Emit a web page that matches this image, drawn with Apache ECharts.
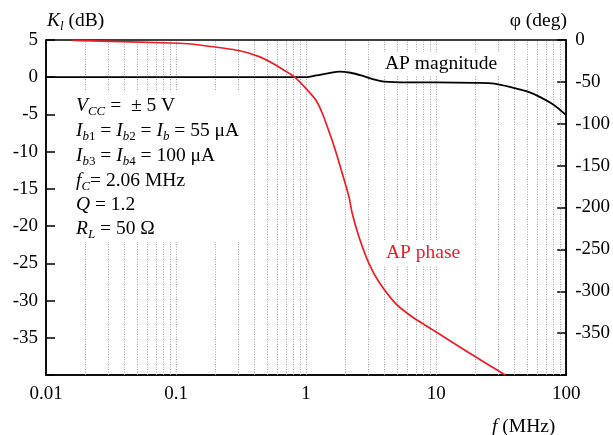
<!DOCTYPE html>
<html>
<head>
<meta charset="utf-8">
<script src="https://cdn.jsdelivr.net/npm/echarts@6/dist/echarts.min.js"></script>
<style>html,body{margin:0;padding:0;background:#fff}#c{width:613px;height:435px}</style>
</head>
<body>
<div id="c"></div>
<script>
// ---- data ----
const magFreq = [0.01, 0.97, 1.2, 1.5, 1.8, 2.2, 2.7, 3.3, 4, 6, 10, 20, 28, 40, 50, 62, 80, 100];
const magDb   = [0, 0, 0.25, 0.55, 0.75, 0.6, 0.2, -0.3, -0.6, -0.7, -0.7, -0.75, -0.85, -1.45, -1.9, -2.6, -3.7, -5.1];

const phaseFreq = [0.016, 0.106, 0.151, 0.307, 0.436, 0.552, 0.658, 0.809, 0.995, 1.187, 1.333, 1.546, 1.69, 1.79, 2.136, 2.263, 2.548, 3.04, 3.625, 4.87, 6.53, 9.29, 10.45, 13.2, 18.8, 30.1, 34];
const phaseDeg  = [-0.4, -3.9, -6.0, -12.8, -19.9, -27.8, -35, -43.8, -57.7, -71.6, -87.5, -115, -133, -146, -187, -206.9, -234.9, -266.7, -288.6, -314.4, -330.4, -345.5, -350.5, -360.5, -375.5, -395, -400];

const gridFreqs = [0.02, 0.03, 0.04, 0.05, 0.06, 0.07, 0.08, 0.09, 0.1,
                   0.2, 0.3, 0.4, 0.5, 0.6, 0.7, 0.8, 0.9, 1,
                   2, 3, 4, 5, 6, 7, 8, 9, 10,
                   20, 30, 40, 50, 60, 70, 80, 90];

const xTickLabels = ['0.01', '0.1', '1', '10', '100'];
const hiddenLeft = -40, hiddenRight = -400;

const FONT = "'Liberation Serif','Times New Roman',serif";
const RED = '#ee1c25';

const magData = magFreq.map((f, i) => [f, magDb[i]]);
const phaseData = phaseFreq.map((f, i) => [f, phaseDeg[i]]);

function richBase(color) {
  return {
    n: {fontFamily: FONT, fontSize: 19.5, lineHeight: 24, fill: color, color: color},
    i: {fontFamily: FONT, fontSize: 19.5, lineHeight: 24, fontStyle: 'italic', fill: color, color: color},
    s: {fontFamily: FONT, fontSize: 13, lineHeight: 12, fontStyle: 'italic', verticalAlign: 'bottom', fill: color, color: color},
    sn: {fontFamily: FONT, fontSize: 13, lineHeight: 12, verticalAlign: 'bottom', fill: color, color: color}
  };
}
function txt(x, y, text, opts) {
  opts = opts || {};
  const color = opts.color || '#000';
  return {
    type: 'text', x: x, y: y, z: 6,
    style: Object.assign({
      text: text,
      rich: richBase(color),
      fill: color,
      font: '19px ' + FONT,
      align: opts.align || 'left',
      verticalAlign: 'middle',
      textAlign: opts.align || 'left',
      textVerticalAlign: 'middle'
    }, opts.bg ? {backgroundColor: '#fff', padding: [0, 2]} : {})
  };
}

const chart = echarts.init(document.getElementById('c'), null, {renderer: 'canvas'});
chart.setOption({
  animation: false,
  backgroundColor: '#fff',
  grid: {left: 46, right: 45, top: 40, bottom: 60, show: true, borderColor: '#000', borderWidth: 1.5, backgroundColor: 'transparent'},
  xAxis: {
    type: 'log', logBase: 10, min: 0.01, max: 100,
    axisLine: {show: true, onZero: false, lineStyle: {color: '#000', width: 1.5}},
    axisTick: {show: false},
    splitLine: {show: false},
    minorTick: {show: false},
    axisLabel: {
      color: '#000', fontFamily: FONT, fontSize: 19, margin: 10,
      formatter: v => xTickLabels[Math.round(Math.log10(v)) + 2]
    }
  },
  yAxis: [{
    type: 'value', min: -40, max: 5, interval: 5, position: 'left',
    axisLine: {show: true, onZero: false, lineStyle: {color: '#000', width: 1.5}},
    axisTick: {show: true, inside: true, length: 9, lineStyle: {color: '#000', width: 1.5}},
    splitLine: {show: false},
    axisLabel: {color: '#000', fontFamily: FONT, fontSize: 19, margin: 8,
      formatter: v => (v === hiddenLeft ? '' : String(v))}
  }, {
    type: 'value', min: -400, max: 0, interval: 50, position: 'right',
    axisLine: {show: true, onZero: false, lineStyle: {color: '#000', width: 1.5}},
    axisTick: {show: true, inside: true, length: 9, lineStyle: {color: '#000', width: 1.5}},
    splitLine: {show: false},
    axisLabel: {color: '#000', fontFamily: FONT, fontSize: 19, margin: 9,
      formatter: v => (v === hiddenRight ? '' : String(v))}
  }],
  series: [{
    name: 'grid', type: 'line', data: [], z: 1, silent: true,
    markLine: {
      z: 1, silent: true, symbol: ['none', 'none'], animation: false,
      label: {show: false},
      lineStyle: {color: '#a0a0a0', width: 1, type: [1, 1.5]},
      emphasis: {disabled: true},
      data: gridFreqs.map(f => ({xAxis: f}))
    }
  }, {
    name: 'AP magnitude', type: 'line', yAxisIndex: 0, data: magData, z: 10,
    showSymbol: false, symbol: 'none', lineStyle: {color: '#000', width: 1.8}, smooth: 0.3
  }, {
    name: 'AP phase', type: 'line', yAxisIndex: 1, data: phaseData, z: 10,
    showSymbol: false, symbol: 'none', lineStyle: {color: RED, width: 1.7}, smooth: 0.25
  }],
  graphic: [
    {type: 'rect', z: 5, shape: {x: 64, y: 91, width: 182, height: 151}, style: {fill: '#fff'}},
    txt(76, 106, '{i|V}{s|CC}{n| =  ± 5 V}'),
    txt(76, 131, '{i|I}{s|b}{sn|1}{n| = }{i|I}{s|b}{sn|2}{n| = }{i|I}{s|b}{n| = 55 μA}'),
    txt(76, 156, '{i|I}{s|b}{sn|3}{n| = }{i|I}{s|b}{sn|4}{n| = 100 μA}'),
    txt(76, 181, '{i|f}{s|C}{n|= 2.06 MHz}'),
    txt(76, 205, '{i|Q}{n| = 1.2}'),
    txt(76, 229, '{i|R}{s|L}{n| = 50 Ω}'),
    txt(47, 21, '{i|K}{s|l}{n| (dB)}'),
    txt(567, 21, '{n|φ (deg)}', {align: 'right'}),
    txt(492, 427, '{i|f}{n| (MHz)}'),
    txt(383, 64, '{n|AP magnitude}', {bg: true}),
    txt(384, 253, '{n|AP phase}', {bg: true, color: RED})
  ]
});
</script>
</body>
</html>
